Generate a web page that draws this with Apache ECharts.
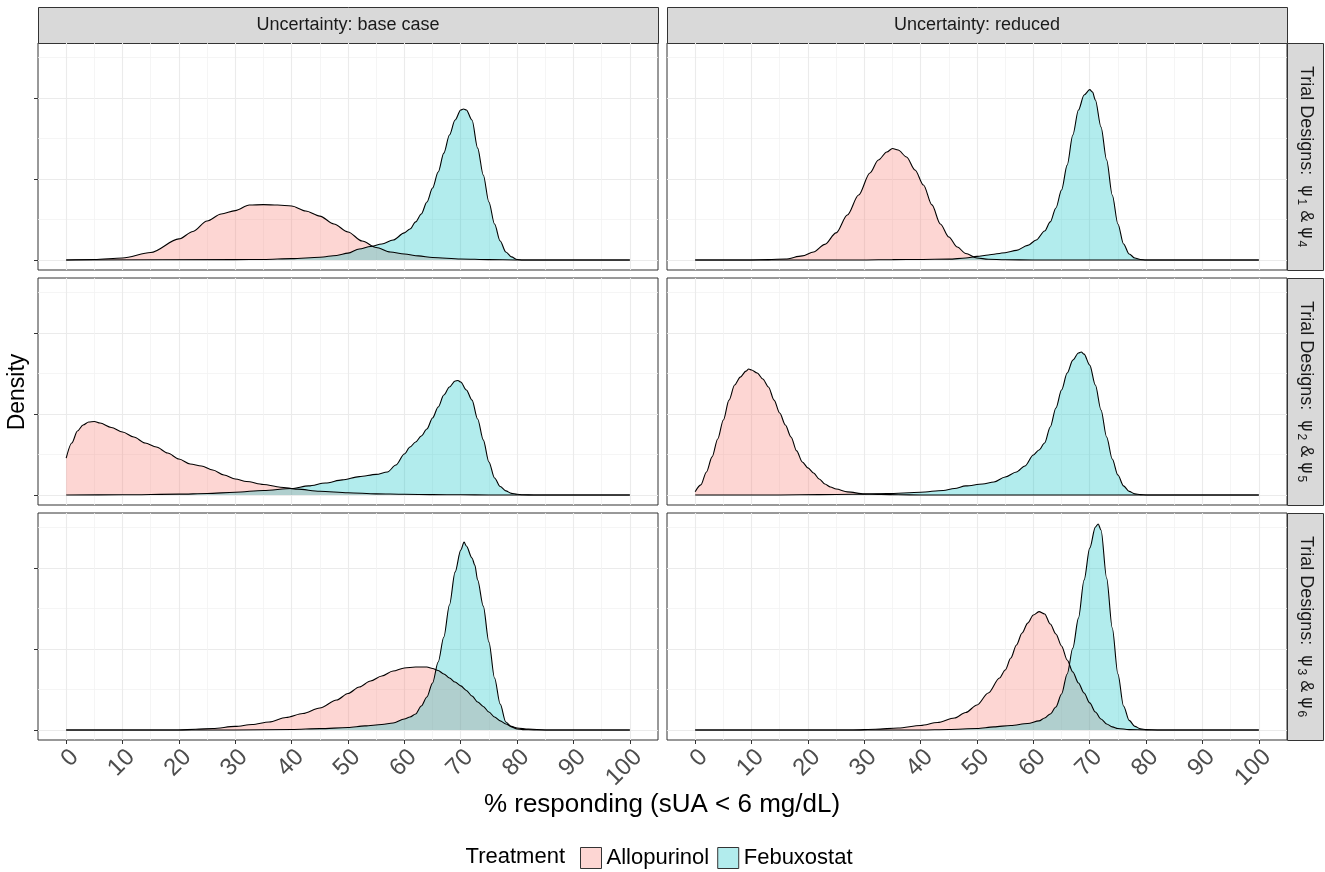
<!DOCTYPE html>
<html>
<head>
<meta charset="utf-8">
<script src="https://cdn.jsdelivr.net/npm/echarts@6/dist/echarts.min.js"></script>
<style>
  html, body { margin: 0; padding: 0; background: #fff; }
  #chart { width: 1325px; height: 872px; }
</style>
</head>
<body>
<div id="chart"></div>
<script>
// facet labels and ticks
const colLabels = ["Uncertainty: base case", "Uncertainty: reduced"];
const rowSubs = [["1", "4"], ["2", "5"], ["3", "6"]];
const treatments = ["Allopurinol", "Febuxostat"];
const xTicks = [0, 10, 20, 30, 40, 50, 60, 70, 80, 90, 100];
const xMinor = [5, 15, 25, 35, 45, 55, 65, 75, 85, 95];
const yTicks = [0, 0.05, 0.1];
const yMinor = [0.025, 0.075, 0.125];

// density curves, [% responding, density]
const baseR1Allo = [[0,0],[5,0.0003],[10,0.0012],[15,0.0046],[20,0.0130],[22.5,0.0176],[25,0.0241],[27.5,0.0284],[30,0.0305],[32.5,0.0339],[35,0.0342],[37.5,0.0339],[40,0.0333],[42.5,0.0302],[45,0.0271],[47.5,0.0222],[50,0.0173],[52.5,0.0117],[55,0.0077],[57.5,0.0049],[60,0.0037],[62.5,0.0025],[65,0.0015],[70,0.0006],[75,0.0002],[80,0],[100,0]];
const baseR1Febu = [[0,0],[30,0.0002],[35,0.0003],[40,0.0008],[45,0.0017],[48,0.0028],[50,0.0042],[52,0.0068],[54,0.0083],[56,0.0099],[58,0.0123],[60,0.0167],[61,0.0191],[62,0.0235],[63,0.0284],[64,0.0358],[65,0.0444],[66,0.0543],[67,0.0660],[68,0.0772],[69,0.0864],[70,0.0926],[70.5,0.0932],[71,0.0926],[72,0.0864],[73,0.0691],[74,0.0525],[75,0.0358],[76,0.0222],[77,0.0117],[78,0.0049],[79,0.0019],[80,0.0003],[81,0],[100,0]];
const remR1Allo = [[0,0],[10,0],[13,0.0002],[16,0.0006],[19,0.0025],[21,0.0049],[23,0.0096],[25,0.0167],[27,0.0278],[29,0.0401],[31,0.0537],[32.5,0.0617],[34,0.0667],[35,0.0688],[36,0.0679],[37.5,0.0636],[39,0.0556],[40.5,0.0463],[42,0.0340],[43.5,0.0222],[45,0.0142],[46.5,0.0080],[48,0.0040],[50,0.0012],[52,0.0004],[55,0.0001],[60,0],[100,0]];
const remR1Febu = [[0,0],[30,0],[35,0.0002],[40,0.0003],[45,0.0005],[48,0.0012],[50,0.0022],[52,0.0031],[55,0.0045],[57,0.0059],[59,0.0090],[60.5,0.0123],[62,0.0179],[63,0.0235],[64,0.0321],[65,0.0432],[66,0.0586],[67,0.0772],[68,0.0926],[69,0.1019],[70,0.1052],[70.5,0.1037],[71,0.0988],[72,0.0821],[73,0.0617],[74,0.0401],[75,0.0222],[76,0.0099],[77,0.0037],[78,0.0012],[79,0.0003],[80,0],[100,0]];
const baseR2Allo = [[0,0.0227],[1,0.0321],[2,0.0395],[3,0.0432],[4,0.0451],[5,0.0454],[6,0.0444],[8,0.0417],[10,0.0389],[12,0.0358],[14,0.0321],[16,0.0296],[18,0.0259],[20,0.0222],[22,0.0191],[24,0.0179],[26,0.0154],[28,0.0123],[30,0.0099],[32,0.0083],[35,0.0065],[38,0.0048],[41,0.0036],[45,0.0023],[50,0.0014],[55,0.0007],[60,0.0004],[65,0.0002],[70,0.0001],[75,0],[100,0]];
const baseR2Febu = [[0,0],[10,0.0001],[20,0.0005],[25,0.0009],[30,0.0017],[35,0.0028],[40,0.0040],[43,0.0056],[46,0.0074],[49,0.0093],[52,0.0113],[55,0.0127],[57,0.0142],[58.5,0.0185],[60,0.0253],[61,0.0296],[62,0.0327],[63,0.0364],[64,0.0407],[65,0.0475],[66,0.0543],[67,0.0617],[68,0.0667],[69,0.0704],[69.5,0.0707],[70,0.0698],[71,0.0648],[72,0.0586],[73,0.0469],[74,0.0340],[75,0.0204],[76,0.0105],[77,0.0052],[78,0.0025],[79,0.0010],[80,0.0004],[81,0.0001],[83,0],[100,0]];
const remR2Allo = [[0,0.0020],[1,0.0062],[2,0.0142],[3,0.0235],[4,0.0346],[5,0.0463],[6,0.0586],[7,0.0679],[8,0.0728],[9,0.0765],[9.5,0.0778],[10,0.0772],[11,0.0753],[12,0.0716],[13,0.0667],[14,0.0586],[15,0.0506],[16,0.0432],[17,0.0358],[18,0.0272],[19,0.0204],[20,0.0167],[21,0.0136],[22,0.0099],[23,0.0068],[24,0.0049],[25,0.0037],[27,0.0019],[30,0.0007],[33,0.0003],[36,0.0001],[40,0],[100,0]];
const remR2Febu = [[0,0],[15,0],[22,0.0002],[28,0.0004],[34,0.0008],[40,0.0017],[44,0.0028],[46,0.0040],[48,0.0056],[51,0.0068],[53,0.0080],[55,0.0111],[57,0.0142],[58.5,0.0179],[60,0.0247],[61,0.0278],[62,0.0321],[63,0.0420],[64,0.0537],[65,0.0648],[66,0.0753],[67,0.0833],[68,0.0877],[68.5,0.0883],[69,0.0870],[70,0.0802],[71,0.0679],[72,0.0525],[73,0.0358],[74,0.0222],[75,0.0123],[76,0.0056],[77,0.0022],[78,0.0007],[79,0.0002],[80,0],[100,0]];
const baseR3Allo = [[0,0],[20,0],[23,0.0004],[26,0.0009],[30,0.0022],[33,0.0034],[36,0.0049],[39,0.0077],[42,0.0102],[45,0.0136],[48,0.0185],[50,0.0225],[52,0.0265],[54,0.0302],[56,0.0333],[58,0.0364],[60,0.0383],[62,0.0389],[64,0.0389],[65,0.0380],[66,0.0367],[67,0.0346],[68,0.0321],[69,0.0296],[70,0.0272],[71,0.0244],[72,0.0210],[73,0.0173],[74,0.0145],[75,0.0111],[76,0.0080],[77,0.0056],[78,0.0037],[79,0.0022],[80,0.0012],[82,0.0005],[85,0],[100,0]];
const baseR3Febu = [[0,0],[30,0],[40,0.0003],[45,0.0008],[50,0.0015],[53,0.0025],[56,0.0034],[58,0.0043],[60,0.0068],[61,0.0080],[62,0.0099],[63,0.0148],[64,0.0204],[65,0.0290],[66,0.0420],[67,0.0574],[68,0.0772],[69,0.0975],[70,0.1111],[70.6,0.1160],[71,0.1136],[72,0.1062],[72.5,0.1019],[73,0.0926],[74,0.0765],[75,0.0543],[76,0.0321],[77,0.0160],[78,0.0049],[79,0.0019],[80,0.0006],[81,0.0002],[83,0],[100,0]];
const remR3Allo = [[0,0],[28,0],[32,0.0004],[36,0.0012],[40,0.0028],[43,0.0046],[46,0.0074],[48,0.0108],[50,0.0154],[52,0.0228],[54,0.0321],[55,0.0370],[56,0.0444],[57,0.0525],[58,0.0599],[59,0.0660],[60,0.0710],[61,0.0731],[62,0.0716],[63,0.0654],[64,0.0593],[65,0.0519],[66,0.0432],[67,0.0358],[68,0.0290],[69,0.0228],[70,0.0167],[71,0.0111],[72,0.0068],[73,0.0037],[74,0.0019],[75,0.0009],[77,0.0002],[80,0],[100,0]];
const remR3Febu = [[0,0],[40,0],[45,0.0003],[50,0.0009],[53,0.0019],[56,0.0028],[59,0.0040],[61,0.0056],[62,0.0074],[63,0.0099],[64,0.0142],[65,0.0222],[66,0.0346],[67,0.0506],[68,0.0691],[69,0.0926],[70,0.1123],[71,0.1253],[71.5,0.1272],[72,0.1235],[73,0.0938],[74,0.0630],[75,0.0346],[76,0.0148],[77,0.0059],[78,0.0022],[79,0.0007],[80,0.0002],[82,0],[100,0]];

// panels in reading order: row by row, base case then reduced
const panels = [
  [baseR1Allo, baseR1Febu], [remR1Allo, remR1Febu],
  [baseR2Allo, baseR2Febu], [remR2Allo, remR2Febu],
  [baseR3Allo, baseR3Febu], [remR3Allo, remR3Febu],
];

const font = "'Liberation Sans', Arial, sans-serif";
const fills = { Allopurinol: "rgba(248,118,109,0.3)", Febuxostat: "rgba(0,191,196,0.3)" };
const colLeft = [38, 667];
const rowTop = [43, 278, 513];
const panelW = 620, panelH = 227;

const chart = echarts.init(document.getElementById("chart"));

const grid = [], xAxis = [], yAxis = [], series = [];
panels.forEach((pair, p) => {
  const r = Math.floor(p / 2), c = p % 2;
  grid.push({
    left: colLeft[c], top: rowTop[r], width: panelW, height: panelH,
    show: true, backgroundColor: "#fff", borderColor: "#333", borderWidth: 1,
    containLabel: false, outerBoundsMode: "none",
  });
  // major + minor x axes (the minor one only draws grid lines)
  xAxis.push({
    type: "value", gridIndex: p, min: -5, max: 105,
    axisLine: { show: false, onZero: false },
    axisTick: { show: r === 2, length: 4, lineStyle: { color: "#333" }, customValues: xTicks },
    axisLabel: { show: r === 2, customValues: xTicks, rotate: 45, margin: 5,
      align: "right", verticalAlign: "top",
      fontSize: 24, color: "#4d4d4d", fontFamily: font },
    splitLine: { show: true, lineStyle: { color: "#ebebeb", width: 1.1 } },
  });
  xAxis.push({
    type: "value", gridIndex: p, min: -5, max: 105, position: "bottom",
    axisLine: { show: false, onZero: false },
    axisTick: { show: false, customValues: xMinor },
    axisLabel: { show: false },
    splitLine: { show: true, lineStyle: { color: "#f3f3f3", width: 0.8 } },
  });
  yAxis.push({
    type: "value", gridIndex: p, min: -0.0062, max: 0.134,
    axisLine: { show: false, onZero: false },
    axisTick: { show: c === 0, length: 4, lineStyle: { color: "#333" }, customValues: yTicks },
    axisLabel: { show: false },
    splitLine: { show: true, lineStyle: { color: "#ebebeb", width: 1.1 } },
  });
  yAxis.push({
    type: "value", gridIndex: p, min: -0.0062, max: 0.134, position: "left",
    axisLine: { show: false, onZero: false },
    axisTick: { show: false, customValues: yMinor },
    axisLabel: { show: false },
    splitLine: { show: true, lineStyle: { color: "#f3f3f3", width: 0.8 } },
  });
  pair.forEach((data, t) => {
    const name = treatments[t];
    series.push({
      name: name, type: "line", xAxisIndex: 2 * p, yAxisIndex: 2 * p,
      data: data, symbol: "none", showSymbol: false,
      smooth: 0.3, smoothMonotone: "x",
      itemStyle: { color: fills[name] },
      lineStyle: { color: "#000", width: 1.1 },
      areaStyle: { color: fills[name], opacity: 1, origin: "auto" },
      silent: true,
    });
  });
});

// facet strips and free-standing titles
const graphic = [];
colLabels.forEach((label, c) => {
  graphic.push({
    type: "rect", shape: { x: colLeft[c] + 0.5, y: 7.5, width: panelW, height: 36 },
    style: { fill: "#d9d9d9", stroke: "#333", lineWidth: 1 }, silent: true,
  });
  graphic.push({
    type: "text", x: colLeft[c] + panelW / 2, y: 25,
    style: { text: label, font: "18px " + font, fill: "#1a1a1a", align: "center", verticalAlign: "middle" },
    silent: true,
  });
});
rowSubs.forEach((subs, r) => {
  graphic.push({
    type: "rect", shape: { x: 1287.5, y: rowTop[r] + 0.5, width: 36, height: panelH },
    style: { fill: "#d9d9d9", stroke: "#333", lineWidth: 1 }, silent: true,
  });
  graphic.push({
    type: "text", x: 1306, y: rowTop[r] + panelH / 2, rotation: -Math.PI / 2,
    style: {
      text: "Trial Designs:  {g|ψ}{s|" + subs[0] + "} {a|&} {g|ψ}{s|" + subs[1] + "}",
      font: "18px " + font, fill: "#1a1a1a", align: "center", verticalAlign: "middle",
      rich: {
        a: { fontSize: 18, fontFamily: font, fill: "#1a1a1a", lineHeight: 22 },
        g: { fontSize: 17, fontFamily: "'DejaVu Sans', sans-serif", fill: "#1a1a1a", lineHeight: 22 },
        s: { fontSize: 12, fontFamily: font, fill: "#1a1a1a", lineHeight: 22, verticalAlign: "bottom", padding: [9, 0, 0, 2] },
      },
    },
    silent: true,
  });
});
graphic.push({
  type: "text", x: 662, y: 805,
  style: { text: "% responding (sUA < 6 mg/dL)", font: "26px " + font, fill: "#000", align: "center", verticalAlign: "middle" },
});
graphic.push({
  type: "text", x: 18, y: 392, rotation: Math.PI / 2,
  style: { text: "Density", font: "23px " + font, fill: "#000", align: "center", verticalAlign: "middle" },
});
graphic.push({
  type: "text", x: 565, y: 857,
  style: { text: "Treatment", font: "22px " + font, fill: "#000", align: "right", verticalAlign: "middle" },
});

const option = {
  animation: false,
  backgroundColor: "#fff",
  grid: grid,
  xAxis: xAxis,
  yAxis: yAxis,
  legend: {
    data: treatments, left: 575, top: 842, icon: "rect",
    itemWidth: 21, itemHeight: 21, itemGap: 8, selectedMode: false,
    itemStyle: { borderColor: "#333", borderWidth: 1 },
    textStyle: { fontSize: 22, color: "#000", fontFamily: font },
  },
  graphic: graphic,
  series: series,
};
chart.setOption(option);
</script>
</body>
</html>
